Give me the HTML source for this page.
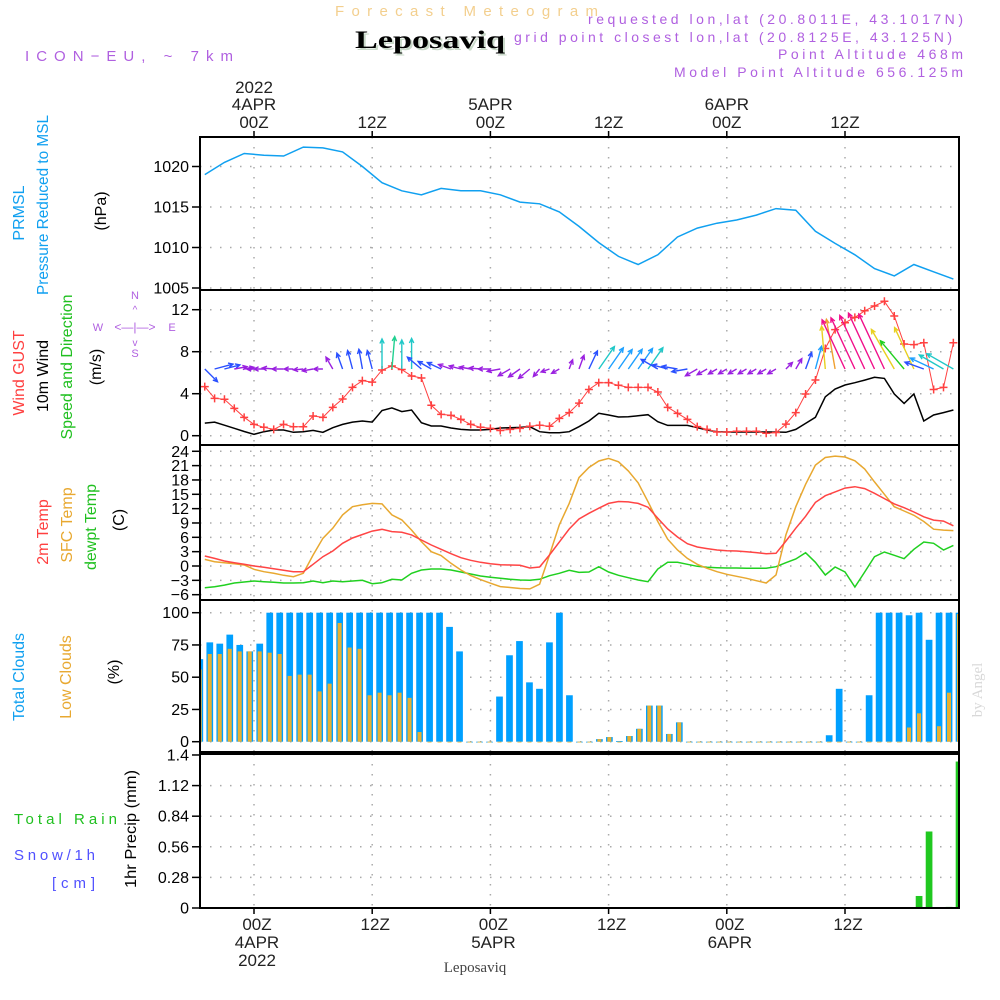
<!DOCTYPE html>
<html><head><meta charset="utf-8">
<style>
html,body{margin:0;padding:0;background:#fff;}
svg{display:block;font-family:"Liberation Sans",sans-serif;}
</style></head>
<body>
<svg id="chart" width="1000" height="1000" viewBox="0 0 1000 1000" xmlns="http://www.w3.org/2000/svg">
<defs>
 <clipPath id="c1"><rect x="200" y="137" width="759" height="153"/></clipPath>
 <clipPath id="c2"><rect x="200" y="290" width="759" height="155"/></clipPath>
 <clipPath id="c3"><rect x="200" y="445" width="759" height="155"/></clipPath>
 <clipPath id="c4"><rect x="200" y="600" width="759" height="152"/></clipPath>
 <clipPath id="c5"><rect x="200" y="754" width="759" height="154"/></clipPath>
</defs>
<!-- header -->
<text x="335" y="16" fill="#f3cf8e" font-size="15" textLength="263">Forecast Meteogram</text>
<text x="432" y="50" fill="#c9d9c9" font-size="25" font-weight="bold" font-family="Liberation Serif,serif" text-anchor="middle" textLength="150" lengthAdjust="spacingAndGlyphs">Leposaviq</text>
<text x="430" y="48" fill="#000" font-size="25" font-weight="bold" font-family="Liberation Serif,serif" text-anchor="middle" textLength="150" lengthAdjust="spacingAndGlyphs">Leposaviq</text>
<text x="25" y="61" fill="#b060e0" font-size="15" textLength="208">ICON−EU, ~ 7km</text>
<text x="588" y="24" fill="#b060e0" font-size="14" textLength="375">requested lon,lat (20.8011E, 43.1017N)</text>
<text x="514" y="42" fill="#b060e0" font-size="14" textLength="438">grid point closest lon,lat (20.8125E, 43.125N)</text>
<text x="778" y="59" fill="#b060e0" font-size="14" textLength="185">Point Altitude 468m</text>
<text x="674" y="77" fill="#b060e0" font-size="14" textLength="289">Model Point Altitude 656.125m</text>

<g id="panels"></g>
<g id="labels" font-size="16"></g>

<!-- left axis titles -->
<g font-size="16">
<text transform="translate(24,213) rotate(-90)" text-anchor="middle" fill="#10a0f0">PRMSL</text>
<text transform="translate(48,205) rotate(-90)" text-anchor="middle" fill="#10a0f0" textLength="180" lengthAdjust="spacingAndGlyphs">Pressure Reduced to MSL</text>
<text transform="translate(106,211) rotate(-90)" text-anchor="middle" fill="#000">(hPa)</text>
<text transform="translate(24,373) rotate(-90)" text-anchor="middle" fill="#ff4040">Wind GUST</text>
<text transform="translate(48,376) rotate(-90)" text-anchor="middle" fill="#000">10m Wind</text>
<text transform="translate(72,367) rotate(-90)" text-anchor="middle" fill="#20c020" textLength="145" lengthAdjust="spacingAndGlyphs">Speed and Direction</text>
<text transform="translate(101,367) rotate(-90)" text-anchor="middle" fill="#000">(m/s)</text>
<g fill="#b060e0" font-size="11">
 <text x="135" y="299" text-anchor="middle">N</text>
 <text x="98" y="331" text-anchor="middle">W</text>
 <text x="172" y="331" text-anchor="middle">E</text>
 <text x="135" y="357" text-anchor="middle">S</text>
 <text x="135" y="331" text-anchor="middle" font-size="12">&lt;—|—&gt;</text>
 <text x="135" y="313" text-anchor="middle" font-size="10">^</text>
 <text x="135" y="346" text-anchor="middle" font-size="10">v</text>
</g>
<text transform="translate(48,532) rotate(-90)" text-anchor="middle" fill="#ff4040">2m Temp</text>
<text transform="translate(72,525) rotate(-90)" text-anchor="middle" fill="#e8a830">SFC Temp</text>
<text transform="translate(96,527) rotate(-90)" text-anchor="middle" fill="#20c020">dewpt Temp</text>
<text transform="translate(124,520) rotate(-90)" text-anchor="middle" fill="#000">(C)</text>
<text transform="translate(24,677) rotate(-90)" text-anchor="middle" fill="#10a0f0">Total Clouds</text>
<text transform="translate(71,677) rotate(-90)" text-anchor="middle" fill="#e8a830">Low Clouds</text>
<text transform="translate(119,672) rotate(-90)" text-anchor="middle" fill="#000">(%)</text>
<text x="14" y="824" fill="#20c020" font-size="15" textLength="103">Total   Rain</text>
<text x="14" y="860" fill="#5050ff" font-size="15" textLength="81">Snow/1h</text>
<text x="52" y="888" fill="#5050ff" font-size="15" textLength="43">[cm]</text>
<text transform="translate(136,829) rotate(-90)" text-anchor="middle" fill="#000" textLength="118" lengthAdjust="spacingAndGlyphs">1hr Precip (mm)</text>
</g>
<text transform="translate(982,690) rotate(-90)" text-anchor="middle" fill="#d8d8d8" font-size="15" font-family="Liberation Serif,serif">by Angel</text>
<text x="475" y="972" text-anchor="middle" fill="#444" font-size="15" font-family="Liberation Serif,serif">Leposaviq</text>
</svg>
<script>
// ---- data ----
const pressHours = [-5,-3,-1,1,3,5,7,9,11,13,15,17,19,21,23,25,27,29,31,33,35,37,39,41,43,45,47,49,51,53,55,57,59,61,63,65,67,69,71];
const pressure = [1019,1020.5,1021.6,1021.4,1021.3,1022.4,1022.3,1021.8,1020,1018,1017,1016.5,1017.3,1017,1017,1016.5,1015.6,1015.4,1014.4,1012.6,1010.6,1008.9,1007.9,1009.1,1011.3,1012.4,1013,1013.4,1014,1014.8,1014.6,1012,1010.5,1009.1,1007.4,1006.5,1007.9,1007,1006.1];
const firstHour = -5;
const gust = [4.67,3.56,3.47,2.6,1.75,1.08,0.8,0.6,1.08,0.85,0.85,1.88,1.75,2.7,3.5,4.6,5.24,5.1,6.26,6.64,6.3,5.69,5.5,2.9,2.03,1.94,1.56,1.08,0.8,0.7,0.5,0.6,0.7,0.9,1.0,0.9,1.65,2.2,3.1,4.4,5.05,5.05,4.8,4.6,4.6,4.6,4.16,2.7,2.13,1.56,0.86,0.6,0.35,0.35,0.42,0.42,0.42,0.23,0.3,1.1,2.2,3.97,5.3,8.3,10.1,10.76,11.27,11.9,12.35,12.8,11.4,8.73,8.67,8.85,4.4,4.6,8.85];
const wind = [1.2,1.3,1.0,0.7,0.4,0.13,0.38,0.54,0.54,0.32,0.38,0.5,0.32,0.76,1.08,1.3,1.4,1.3,2.4,2.65,2.3,2.45,1.24,0.92,0.92,0.73,0.6,0.54,0.54,0.6,0.73,0.76,0.79,0.86,0.38,0.29,0.29,0.38,0.86,1.4,2.13,1.97,1.78,1.81,1.9,2.0,1.33,0.98,0.98,0.98,0.76,0.54,0.38,0.35,0.35,0.35,0.35,0.35,0.35,0.32,0.6,1.17,1.75,3.7,4.45,4.83,5.05,5.3,5.56,5.46,3.97,3.08,3.97,1.4,1.97,2.2,2.45];
const windDir = [135,75,75,80,80,270,270,275,270,270,265,260,270,330,340,345,350,345,0,5,0,0,310,300,295,290,285,280,275,270,260,240,235,230,220,250,240,20,20,25,35,35,35,35,35,35,300,285,280,260,240,240,240,240,240,240,240,240,240,45,30,20,15,355,350,335,335,335,335,335,330,320,335,290,295,300,300];
const temp2m = [2.09,1.6,1.05,0.7,0.35,0,-0.28,-0.56,-0.91,-1.19,-1.19,0.35,1.95,3.14,4.74,5.86,6.6,7.3,7.67,7.2,7.04,6.5,5.44,4.4,3.49,2.58,1.74,1.19,0.77,0.49,0.28,0.21,0.14,-0.42,-0.21,2.3,5.0,7.74,9.83,11.02,12.1,13.1,13.5,13.4,13.1,12.3,9.97,7.74,6.07,4.67,3.97,3.63,3.35,3.2,3.14,3.0,2.8,2.58,2.65,5.2,7.9,10.4,13.3,14.7,15.5,16.3,16.6,16.2,15.2,14.1,13.0,12.2,11.3,10.3,9.6,9.4,8.4];
const sfcTemp = [1.39,0.91,0.7,0.49,0.21,-0.7,-1.19,-1.53,-1.95,-2.23,-1.53,2.3,5.8,7.9,10.7,12.4,12.8,13.1,13.0,10.7,9.65,7.5,5.1,3.0,2.2,0.56,-0.84,-2.0,-2.85,-3.6,-4.3,-4.5,-4.7,-4.8,-3.8,2.3,8.6,13.1,18.5,20.6,21.96,22.5,21.8,19.9,17.4,13.45,9.3,5.6,3.35,1.6,0.35,-0.49,-1.2,-1.74,-2.16,-2.58,-3.07,-3.56,-1.88,6.5,12.4,17.1,21.1,22.7,23.0,22.8,22.0,20.3,17.6,15.0,12.4,11.5,10.6,9.3,7.7,7.5,7.4];
const dewpt = [-4.55,-4.35,-4.0,-3.56,-3.35,-3.14,-3.28,-3.42,-3.56,-3.56,-3.49,-3.14,-3.49,-3.14,-3.28,-3.14,-3.0,-3.7,-3.49,-2.79,-2.93,-1.53,-0.84,-0.63,-0.63,-0.84,-1.26,-1.67,-2.1,-2.37,-2.58,-2.79,-2.93,-3.0,-2.79,-2.02,-1.53,-0.91,-1.33,-1.26,-0.14,-1.26,-1.95,-2.44,-2.93,-3.28,-0.63,0.77,0.77,0.35,-0.07,-0.28,-0.35,-0.42,-0.42,-0.49,-0.49,-0.49,-0.14,0.7,1.46,2.79,0.77,-1.88,-0.21,-1.26,-4.4,-1.26,1.95,2.93,2.23,1.53,3.49,5.02,4.74,3.35,4.32];
const totalClouds = [64,77,76,83,75,70,76,100,100,100,100,100,100,100,100,100,100,100,100,100,100,100,100,100,100,89,70,0,0,0,35,67,78,46,41,77,100,36,0,0,2,3.6,0.5,4.4,10,28,28,6,15,0,0,0,0,0,0,0,0,0,0,0,0,0,0,5,41,0,0,36,100,100,100,98,100,79,100,100,100];
const lowClouds = [56,68,68,72,70,70,70,69,68,51,52,52,39,45,92,73,72,36,38,36,38,34,7.5,0,0,0,0,0,0,0,0,0,0,0,0,0,0,0,0,0,2,3.6,0,4.4,10,28,28,6,15,0,0,0,0,0,0,0,0,0,0,0,0,0,0,0,0,0,0,0,0,0,0,11,22,0,12,38,99];
const precip = [0,0,0,0,0,0,0,0,0,0,0,0,0,0,0,0,0,0,0.005,0,0,0,0,0,0,0,0,0,0,0,0,0,0,0,0,0,0,0,0,0,0,0,0,0,0,0,0,0,0,0,0,0,0,0,0,0,0,0,0,0,0,0,0,0,0,0,0,0,0,0,0,0,0.11,0.7,0,0.01,1.34];
const pressTicks = [1005,1010,1015,1020];
const windTicks = [0,4,8,12];
const tempTicks = [-6,-3,0,3,6,9,12,15,18,21,24];
const cloudTicks = [0,25,50,75,100];
const precipTicks = ["0","0.28","0.56","0.84","1.12","1.4"];
const timeTicks = [{h:0,top:["2022","4APR","00Z"],bot:["00Z","4APR","2022"]},{h:12,top:["","","12Z"],bot:["12Z"]},{h:24,top:["","5APR","00Z"],bot:["00Z","5APR"]},{h:36,top:["","","12Z"],bot:["12Z"]},{h:48,top:["","6APR","00Z"],bot:["00Z","6APR"]},{h:60,top:["","","12Z"],bot:["12Z"]}];

// ---- axes ----
const X0=200, X1=959;
const x = h => 254 + 9.85*h;
const xb = h => 249.7 + 9.99*h;
const yP = p => 166.5 - (p-1020)*8.1;
const yW = v => 435.7 - 10.5*v;
const yT = t => 566 - 4.78*t;
const yC = c => 741.7 - 1.29*c;
const yR = r => 908 - 109.3*r;
const panels = [{t:137,b:290,c:'c1'},{t:290,b:445,c:'c2'},{t:445,b:600,c:'c3'},{t:600,b:752,c:'c4'},{t:754,b:908,c:'c5'}];

const NS='http://www.w3.org/2000/svg';
const root=document.getElementById('panels');
const lab=document.getElementById('labels');
function mk(tag,attrs,parent){const e=document.createElementNS(NS,tag);for(const k in attrs)e.setAttribute(k,attrs[k]);(parent||root).appendChild(e);return e;}
function grp(clip,name){const g=mk('g',{'clip-path':'url(#'+clip+')'});return g;}

// grids
const gridG=mk('g',{stroke:'#aaa','stroke-width':'1.5','stroke-dasharray':'1.5 8.5',fill:'none'});


panels.forEach(p=>{timeTicks.forEach(t=>mk('line',{x1:x(t.h),x2:x(t.h),y1:p.t,y2:p.b},gridG));});
function hgrid(vals,fy,top,bot){vals.forEach(v=>{const y=fy(v);if(y>top+1&&y<bot-1)mk('line',{x1:X0,x2:X1,y1:y,y2:y},gridG);});}
hgrid(pressTicks,yP,137,290);hgrid(windTicks,yW,290,445);hgrid(tempTicks,yT,445,600);hgrid(cloudTicks,yC,600,752);
hgrid(precipTicks.map(Number),yR,754,908);

function path(xs,ys,color,w,g,name){let d='';for(let i=0;i<xs.length;i++)d+=(i?'L':'M')+xs[i].toFixed(1)+' '+ys[i].toFixed(1);const e=mk('path',{d:d,stroke:color,'stroke-width':w,fill:'none'},g);return e;}
const hrs = gust.map((_,i)=>firstHour+i);

// pressure
const g1=grp('c1','pressure-plot');
path(pressHours.map(x),pressure.map(yP),'#10a0f0',1.5,g1,'pressure-line');

// wind
const g2=grp('c2','wind-plot');
path(hrs.map(x),wind.map(yW),'#000',1.5,g2,'wind-speed-line');
path(hrs.map(x),gust.map(yW),'#ff4040',1,g2,'gust-line');
gust.forEach((v,i)=>{const cx=x(hrs[i]),cy=yW(v);const m=mk('path',{d:`M${cx-4} ${cy}H${cx+4}M${cx} ${cy-4}V${cy+4}`,stroke:'#ff4040','stroke-width':1.5},g2);

});
function wcol(s){if(s<0.9)return '#9a20e0';if(s<1.5)return '#2a50ff';if(s<2)return '#1ea0ff';if(s<2.5)return '#20c8c8';if(s<3)return '#20d090';if(s<3.5)return '#20d020';if(s<4)return '#e8d020';if(s<4.6)return '#f0a030';return '#f0108a';}
wind.forEach((s,i)=>{const bx=x(hrs[i]),by=369;const a=windDir[i]*Math.PI/180;const L=6+s*10;
 const ex=bx+L*Math.sin(a),ey=by-L*Math.cos(a);
 const hl=5,h1=a+Math.PI-0.45,h2=a+Math.PI+0.45;
 const d=`M${bx.toFixed(1)} ${by}L${ex.toFixed(1)} ${ey.toFixed(1)}M${(ex+hl*Math.sin(h1)).toFixed(1)} ${(ey-hl*Math.cos(h1)).toFixed(1)}L${ex.toFixed(1)} ${ey.toFixed(1)}L${(ex+hl*Math.sin(h2)).toFixed(1)} ${(ey-hl*Math.cos(h2)).toFixed(1)}`;
 const e=mk('path',{d:d,stroke:wcol(s),'stroke-width':1.4,fill:'none'},g2);
 
 });

// temps
const g3=grp('c3','temperature-plot');
path(hrs.map(x),dewpt.map(yT),'#20d020',1.5,g3,'dewpoint-line');
path(hrs.map(x),sfcTemp.map(yT),'#e8a830',1.5,g3,'sfc-temp-line');
path(hrs.map(x),temp2m.map(yT),'#ff4444',1.5,g3,'temp-2m-line');

// clouds
const g4=grp('c4','clouds-plot');
totalClouds.forEach((c,i)=>{const cx=xb(hrs[i]);const y=yC(c);const r=mk('rect',{x:cx-3.3,y:y,width:6.7,height:Math.max(741.7-y,0.8),fill:'#00a0ff'},g4);

});
lowClouds.forEach((c,i)=>{const cx=xb(hrs[i]);const y=yC(c);const r=mk('rect',{x:cx-2,y:y,width:4,height:Math.max(741.7-y,0.8),fill:'#e8b030'},g4);

});

// precip
const g5=grp('c5','precip-plot');
precip.forEach((r,i)=>{if(r<=0)return;const cx=xb(hrs[i]);const y=yR(r);const e=mk('rect',{x:cx-3.3,y:y,width:6.7,height:Math.max(908-y,1),fill:'#20c820'},g5);

});

// frames
const fr=mk('g',{fill:'none',stroke:'#000','stroke-width':2});


panels.forEach(p=>mk('rect',{x:X0,y:p.t,width:X1-X0,height:p.b-p.t},fr));

// y tick labels
function yticks(vals,fy,name){vals.forEach(v=>{const y=fy(Number(v));mk('line',{x1:192,x2:200,y1:y,y2:y,stroke:'#000','stroke-width':1.5},lab);
 const t=mk('text',{x:189,y:y+5.5,'text-anchor':'end',fill:'#000'},lab);t.textContent=String(v).replace('-','−');
 
 });}
yticks(pressTicks,yP,'pressure-tick');yticks(windTicks,yW,'wind-tick');yticks(tempTicks,yT,'temp-tick');yticks(cloudTicks,yC,'cloud-tick');yticks(precipTicks,yR,'precip-tick');

// time labels
timeTicks.forEach(t=>{const cx=x(t.h);
 mk('line',{x1:cx,x2:cx,y1:131,y2:137,stroke:'#000','stroke-width':1.5},lab);
 mk('line',{x1:cx,x2:cx,y1:908,y2:914,stroke:'#000','stroke-width':1.5},lab);
 [93,110,128].forEach((yy,k)=>{if(!t.top[k])return;const e=mk('text',{x:cx,y:yy,'text-anchor':'middle',fill:'#222','font-size':17},lab);e.textContent=t.top[k];
 
 });
 [930,948,966].forEach((yy,k)=>{if(!t.bot[k])return;const e=mk('text',{x:cx+3,y:yy,'text-anchor':'middle',fill:'#222','font-size':17},lab);e.textContent=t.bot[k];
 
 });
});
</script>
</body></html>
